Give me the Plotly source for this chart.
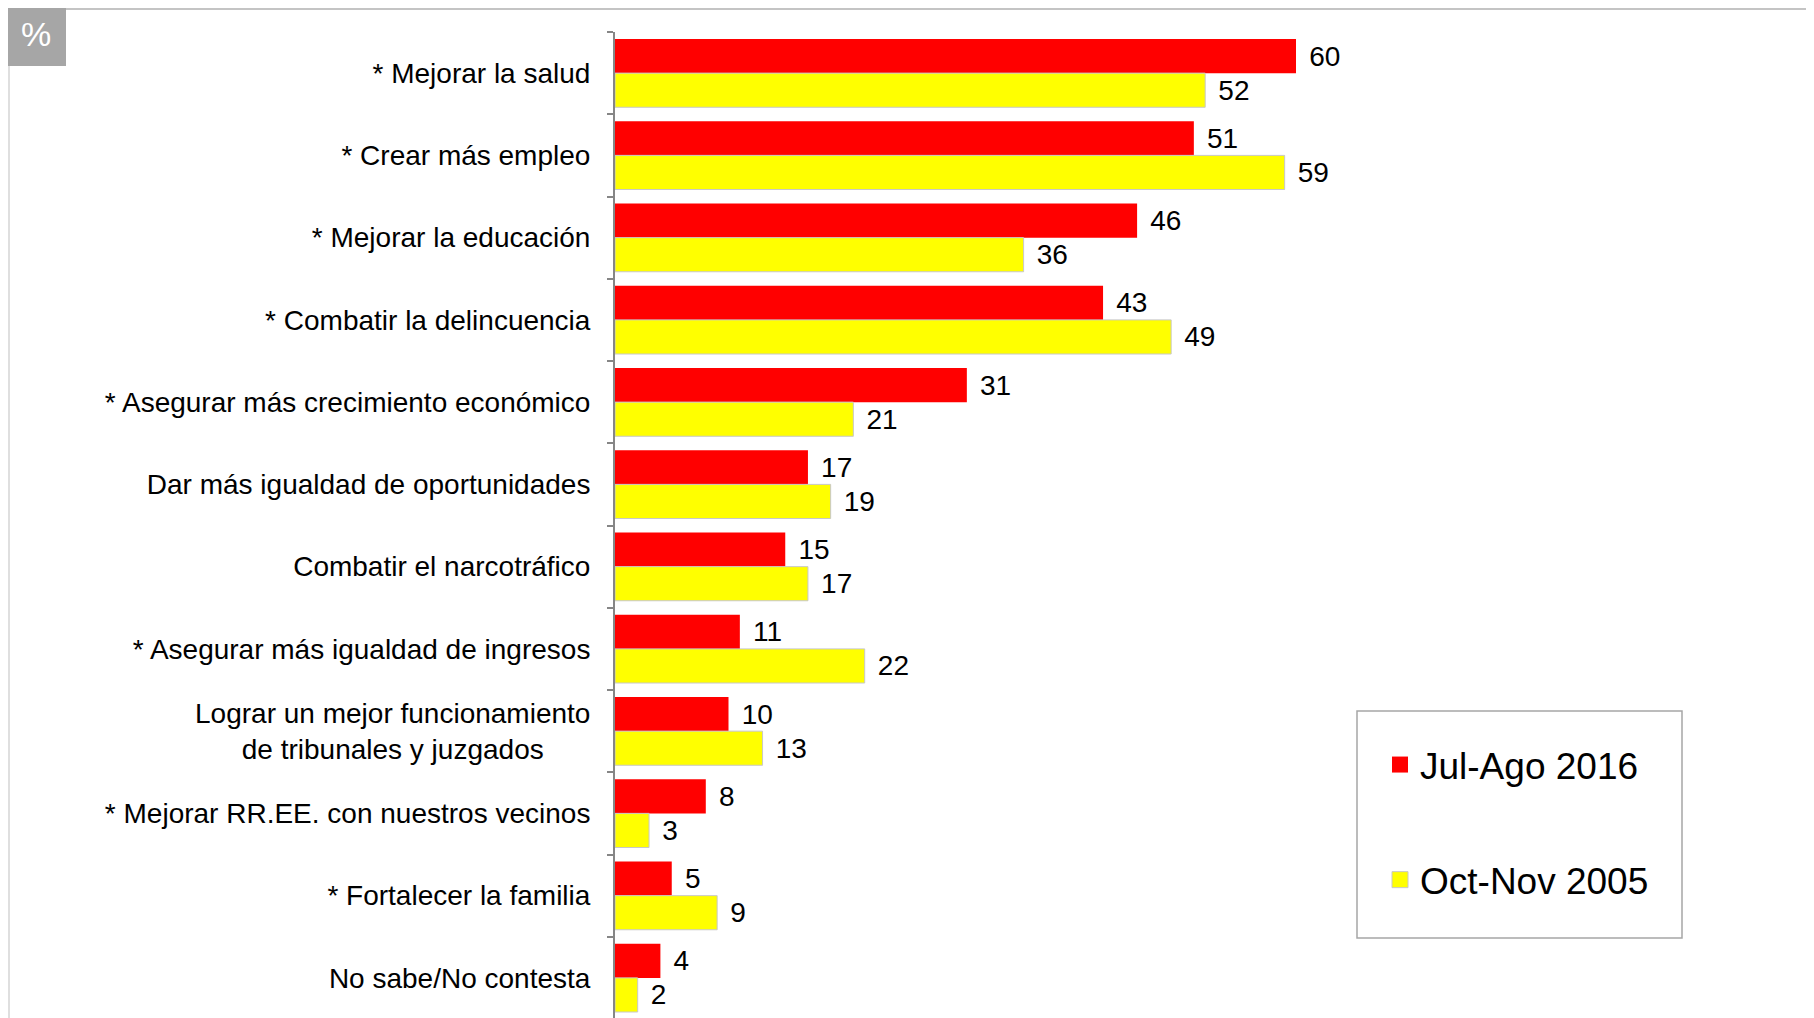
import plotly.graph_objects as go

categories = [
    "* Mejorar la salud",
    "* Crear más empleo",
    "* Mejorar la educación",
    "* Combatir la delincuencia",
    "* Asegurar más crecimiento económico",
    "Dar más igualdad de oportunidades",
    "Combatir el narcotráfico",
    "* Asegurar más igualdad de ingresos",
    "Lograr un mejor funcionamiento<br>de tribunales y juzgados" + "\u00a0" * 6,
    "* Mejorar RR.EE. con nuestros vecinos",
    "* Fortalecer la familia",
    "No sabe/No contesta",
]
jul_ago_2016 = [60, 51, 46, 43, 31, 17, 15, 11, 10, 8, 5, 4]
oct_nov_2005 = [52, 59, 36, 49, 21, 19, 17, 22, 13, 3, 9, 2]
series_names = ["Jul-Ago 2016", "Oct-Nov 2005"]
series_colors = ["#FF0000", "#FFFF00"]

FONT = "Arial, Liberation Sans, sans-serif"
W, H = 1814, 1018
OFF = 8  # page body margin
ML, MT, MB, MR = 615 - OFF, 32 - OFF, 7, 0
PW = W - ML - MR
PH = H - MT - MB
PX_PER_UNIT = 11.35
XMAX = PW / PX_PER_UNIT


def px_x(p):
    return (p - OFF - ML) / PW


def px_y(p):
    return (H - MB - (p - OFF)) / PH


fig = go.Figure()
for name, vals, col, lw in [
    (series_names[0], jul_ago_2016, series_colors[0], 0),
    (series_names[1], oct_nov_2005, series_colors[1], 1),
]:
    fig.add_trace(go.Bar(
        y=categories, x=vals, orientation="h", name=name,
        marker=dict(color=col, line=dict(width=lw, color="#c8c8c8")),
        texttemplate="\u00a0\u200a%{x}", textposition="outside", constraintext="none",
        textfont=dict(size=28, color="black", family=FONT), cliponaxis=False,
        showlegend=False,
    ))

# legend entries (larger square swatches)
for i, (name, col) in enumerate(zip(series_names, series_colors)):
    fig.add_trace(go.Scatter(
        x=[None], y=[None], mode="markers", name=name,
        marker=dict(symbol="square", size=16, color=col,
                    line=dict(width=1 if i == 1 else 0, color="#c8c8c8")),
        legendgroup=f"g{i}", showlegend=True,
    ))

shapes = [
    # outer frame lines
    dict(type="line", xref="paper", yref="paper", layer="below",
         x0=px_x(8), x1=px_x(1840), y0=px_y(9), y1=px_y(9),
         line=dict(color="#c4c4c4", width=2)),
    dict(type="line", xref="paper", yref="paper", layer="below",
         x0=px_x(9), x1=px_x(9), y0=px_y(9), y1=px_y(1040),
         line=dict(color="#d4d4d4", width=1.5)),
    # % box
    dict(type="rect", xref="paper", yref="paper", layer="below",
         x0=px_x(8), x1=px_x(66), y0=px_y(66), y1=px_y(8),
         fillcolor="#a6a6a6", line=dict(width=0)),
    # legend box
    dict(type="rect", xref="paper", yref="paper", layer="below",
         x0=px_x(1357), x1=px_x(1682), y0=px_y(938), y1=px_y(711),
         fillcolor="white", line=dict(color="#a6a6a6", width=1.5)),
]

fig.update_layout(
    width=W, height=H,
    margin=dict(l=ML, r=MR, t=MT, b=MB),
    paper_bgcolor="white",
    plot_bgcolor="rgba(0,0,0,0)",
    barmode="group",
    bargap=0.17,
    bargroupgap=0,
    font=dict(family=FONT, size=28, color="black"),
    xaxis=dict(range=[0, XMAX], visible=False, showgrid=False, zeroline=False),
    yaxis=dict(
        type="category", range=[11.5, -0.5],
        showline=True, linecolor="#868686", linewidth=2,
        ticks="outside", tickson="boundaries", ticklen=6, tickcolor="#868686", tickwidth=2,
        ticklabelstandoff=17,
        tickfont=dict(size=28, color="black", family=FONT),
        showgrid=False, zeroline=False,
    ),
    showlegend=True,
    legend=dict(
        x=px_x(1380), y=px_y(734), xanchor="left", yanchor="top",
        font=dict(size=37, color="black", family=FONT),
        bgcolor="rgba(0,0,0,0)", borderwidth=0,
        traceorder="grouped", tracegroupgap=64,
        itemsizing="trace",
    ),
    shapes=shapes,
    annotations=[
        dict(text="%", xref="paper", yref="paper", x=px_x(36), y=px_y(34),
             showarrow=False, font=dict(size=34, color="white", family=FONT),
             xanchor="center", yanchor="middle"),
    ],
)

fig.write_html("out.html")
